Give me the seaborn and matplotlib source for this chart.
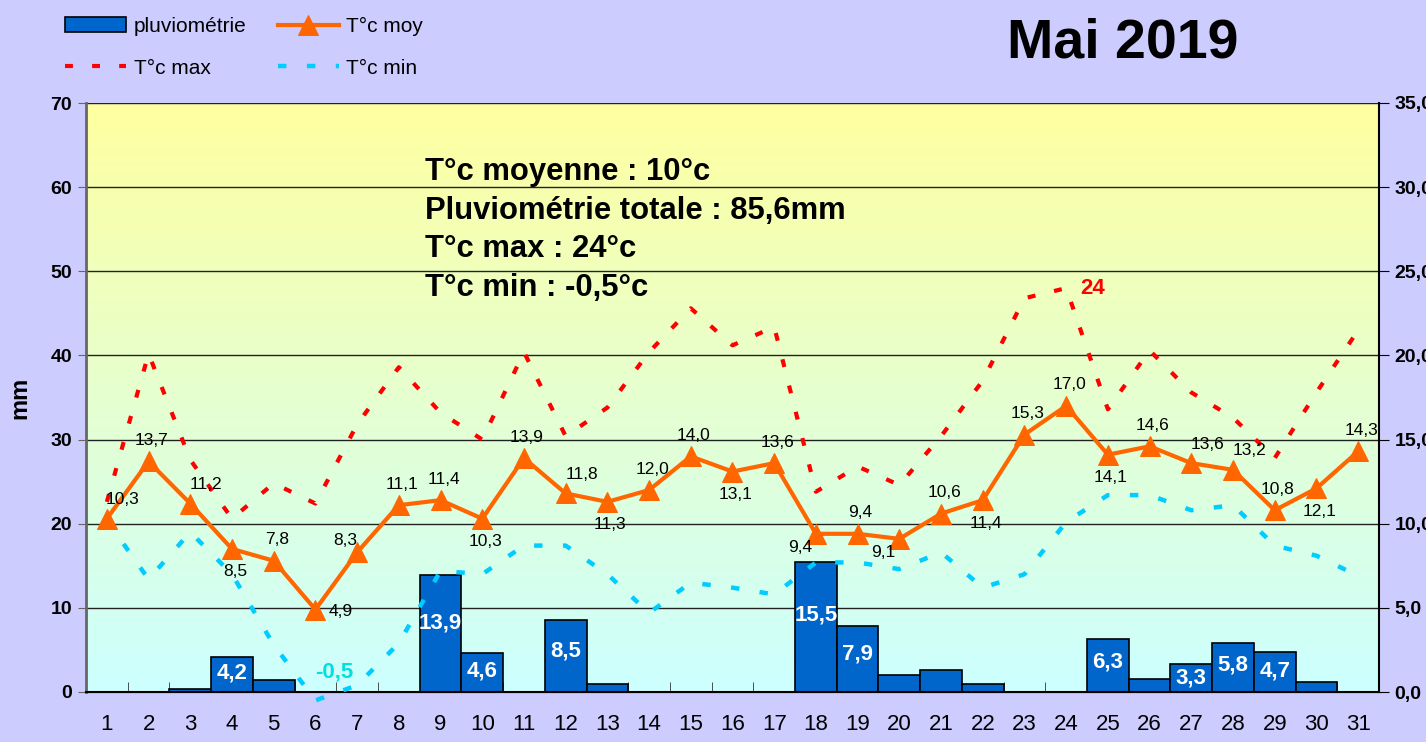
import numpy as np
import pandas as pd
import matplotlib
matplotlib.use('Agg')
import matplotlib.pyplot as plt
import seaborn as sns

# Data for May 2019
days = list(range(1, 32))
rain = [0, 0, 0.3, 4.2, 1.4, 0, 0, 0, 13.9, 4.6, 0, 8.5, 0.9, 0, 0, 0,
        0, 15.5, 7.9, 2.0, 2.6, 0.9, 0, 0, 6.3, 1.6, 3.3, 5.8, 4.7, 1.2, 0]
t_moy = [10.3, 13.7, 11.2, 8.5, 7.8, 4.9, 8.3, 11.1, 11.4, 10.3, 13.9, 11.8,
         11.3, 12.0, 14.0, 13.1, 13.6, 9.4, 9.4, 9.1, 10.6, 11.4, 15.3, 17.0,
         14.1, 14.6, 13.6, 13.2, 10.8, 12.1, 14.3]
t_max = [11.3, 20.1, 13.8, 10.3, 12.4, 11.2, 15.9, 19.3, 16.6, 15.0, 20.2,
         15.2, 16.9, 20.2, 22.8, 20.6, 21.7, 11.9, 13.4, 12.3, 15.2, 18.5,
         23.4, 24.0, 16.8, 20.3, 17.8, 16.3, 13.9, 17.8, 21.5]
t_min = [10.2, 6.7, 9.5, 7.0, 2.8, -0.5, 0.4, 2.9, 7.2, 7.0, 8.7, 8.7, 7.0,
         4.7, 6.5, 6.2, 5.8, 7.7, 7.7, 7.3, 8.3, 6.2, 7.0, 10.1, 11.7, 11.7,
         10.8, 11.1, 8.7, 8.1, 6.9]
stats = ['T°c moyenne : 10°c', 'Pluviométrie totale : 85,6mm',
         'T°c max : 24°c', 'T°c min : -0,5°c']

# where to put each mean label (a=above, b=below, r=right, ...)
lbl_pos = ['ar', 'a', 'ar', 'b', 'a', 'r', 'al', 'a', 'a', 'b', 'a', 'ar',
           'b', 'a', 'a', 'b', 'a', 'bl', 'a', 'bl', 'a', 'b', 'a', 'a',
           'b', 'a', 'ar', 'ar', 'a', 'b', 'a']
offsets = {'a': (3, 21), 'b': (3, -23), 'ar': (16, 19), 'al': (-12, 12),
           'r': (25, -2), 'bl': (-16, -14)}

plt.rcParams['font.family'] = ['Liberation Sans', 'DejaVu Sans']

df = pd.DataFrame({'jour': days, 'pluie': rain, 'moy': t_moy,
                   'max': t_max, 'min': t_min})
df['pos'] = np.arange(len(df))

fig = plt.figure(figsize=(14.26, 7.42), dpi=100, facecolor='#CCCCFF')
ax = fig.add_axes([86 / 1426, 1 - 692 / 742, 1293 / 1426, 589 / 742])
ax2 = ax.twinx()

# gradient background
top = np.array([255, 255, 160]) / 255
bot = np.array([204, 255, 255]) / 255
grad = np.linspace(0, 1, 256)[:, None, None] * (bot - top) + top
ax.imshow(np.repeat(grad, 2, axis=1), extent=(-0.5, 30.5, 0, 70),
          aspect='auto', zorder=-2)

sns.barplot(data=df, x='jour', y='pluie', ax=ax, color='#0066CC',
            saturation=1, width=1.0, edgecolor='black', linewidth=1.2,
            errorbar=None, label='pluviométrie')
for i, v in enumerate(rain):
    if v >= 3:
        ax.text(i, 0.62 * v - 0.4, f'{v:.1f}'.replace('.', ','),
                ha='center', va='center', color='white', fontsize=16,
                fontweight='bold')

dash = (0, (1.9, 4.6))
sns.lineplot(data=df, x='pos', y='max', ax=ax2, color='#FF0000', lw=3,
             linestyle=dash, label='T°c max')
sns.lineplot(data=df, x='pos', y='min', ax=ax2, color='#00CCFF', lw=3.2,
             linestyle=dash, label='T°c min', clip_on=False)
sns.lineplot(data=df, x='pos', y='moy', ax=ax2, color='#FF6600', lw=3,
             marker='^', markersize=14, markeredgecolor='#FF6600',
             label='T°c moy', clip_on=False)

for i, v in enumerate(t_moy):
    dx, dy = offsets[lbl_pos[i]]
    ax2.annotate(f'{v:.1f}'.replace('.', ','), (i, v), xytext=(dx, dy),
                 textcoords='offset pixels', ha='center', va='center',
                 fontsize=12.5)

imax = int(np.argmax(t_max))
ax2.annotate(f'{t_max[imax]:g}', (imax, t_max[imax]), xytext=(26, 0),
             textcoords='offset pixels', ha='center', va='center',
             color='#FF0000', fontsize=16, fontweight='bold')
imin = int(np.argmin(t_min))
ax2.annotate(f'{t_min[imin]:g}'.replace('.', ','), (imin, t_min[imin]),
             xytext=(19, 28), textcoords='offset pixels', ha='center',
             va='center', color='#00E0E0', fontsize=16, fontweight='bold',
             annotation_clip=False)

# axes
ax.set_xlim(-0.5, 30.5)
ax.set_ylim(0, 70)
ax2.set_ylim(0, 35)
ax.set_yticks(range(0, 71, 10))
ax.set_yticklabels([str(v) for v in range(0, 71, 10)], fontweight='bold',
                   fontsize=14)
ax2.set_yticks(range(0, 36, 5))
ax2.set_yticklabels([f'{v},0' for v in range(0, 36, 5)], fontweight='bold',
                    fontsize=14)
ax.set_xticks(range(31))
ax.set_xticklabels([str(d) for d in days], fontsize=16)
ax.set_xticks(np.arange(-0.5, 31, 1), minor=True)
ax.tick_params(axis='x', which='major', length=0, pad=16)
ax.tick_params(axis='x', which='minor', direction='in', length=7,
               color='#333333')
ax.tick_params(axis='y', length=6, color='#666666', pad=4)
ax2.tick_params(axis='y', length=7, color='black', pad=4)
ax.set_xlabel('')
ax.set_ylabel('mm', fontsize=17, fontweight='bold', labelpad=14)
ax2.set_ylabel('')
ax.grid(axis='y', color='#222222', lw=1)
ax.set_axisbelow(True)
for a in (ax, ax2):
    a.spines['top'].set_visible(False)
ax.spines['left'].set_color('#666666')
ax.spines['left'].set_linewidth(2)
ax2.spines['left'].set_visible(False)
ax2.spines['right'].set_color('black')
ax2.spines['right'].set_linewidth(1.5)
ax.spines['right'].set_visible(False)
ax.spines['bottom'].set_linewidth(1.5)

ax.text(0.262, 0.908, '\n'.join(stats), transform=ax.transAxes, ha='left',
        va='top', fontsize=22.3, fontweight='bold', linespacing=1.37)

fig.text(1123 / 1426, 1 - 43 / 742, 'Mai 2019', ha='center', va='center',
         fontsize=40, fontweight='bold')

# legend
h1, l1 = ax.get_legend_handles_labels()
h2, l2 = ax2.get_legend_handles_labels()
for a in (ax, ax2):
    if a.get_legend() is not None:
        a.get_legend().remove()
hs = dict(zip(l1 + l2, h1 + h2))
order = ['pluviométrie', 'T°c max', 'T°c moy', 'T°c min']
fig.legend([hs[k] for k in order], order, loc='upper left',
           bbox_to_anchor=(46 / 1426, 1 + 2 / 742), ncol=2, frameon=False,
           fontsize=15, handlelength=2.95, columnspacing=1.5,
           labelspacing=1.1, handletextpad=0.35)

plt.savefig('out.png', dpi=100, facecolor=fig.get_facecolor())
